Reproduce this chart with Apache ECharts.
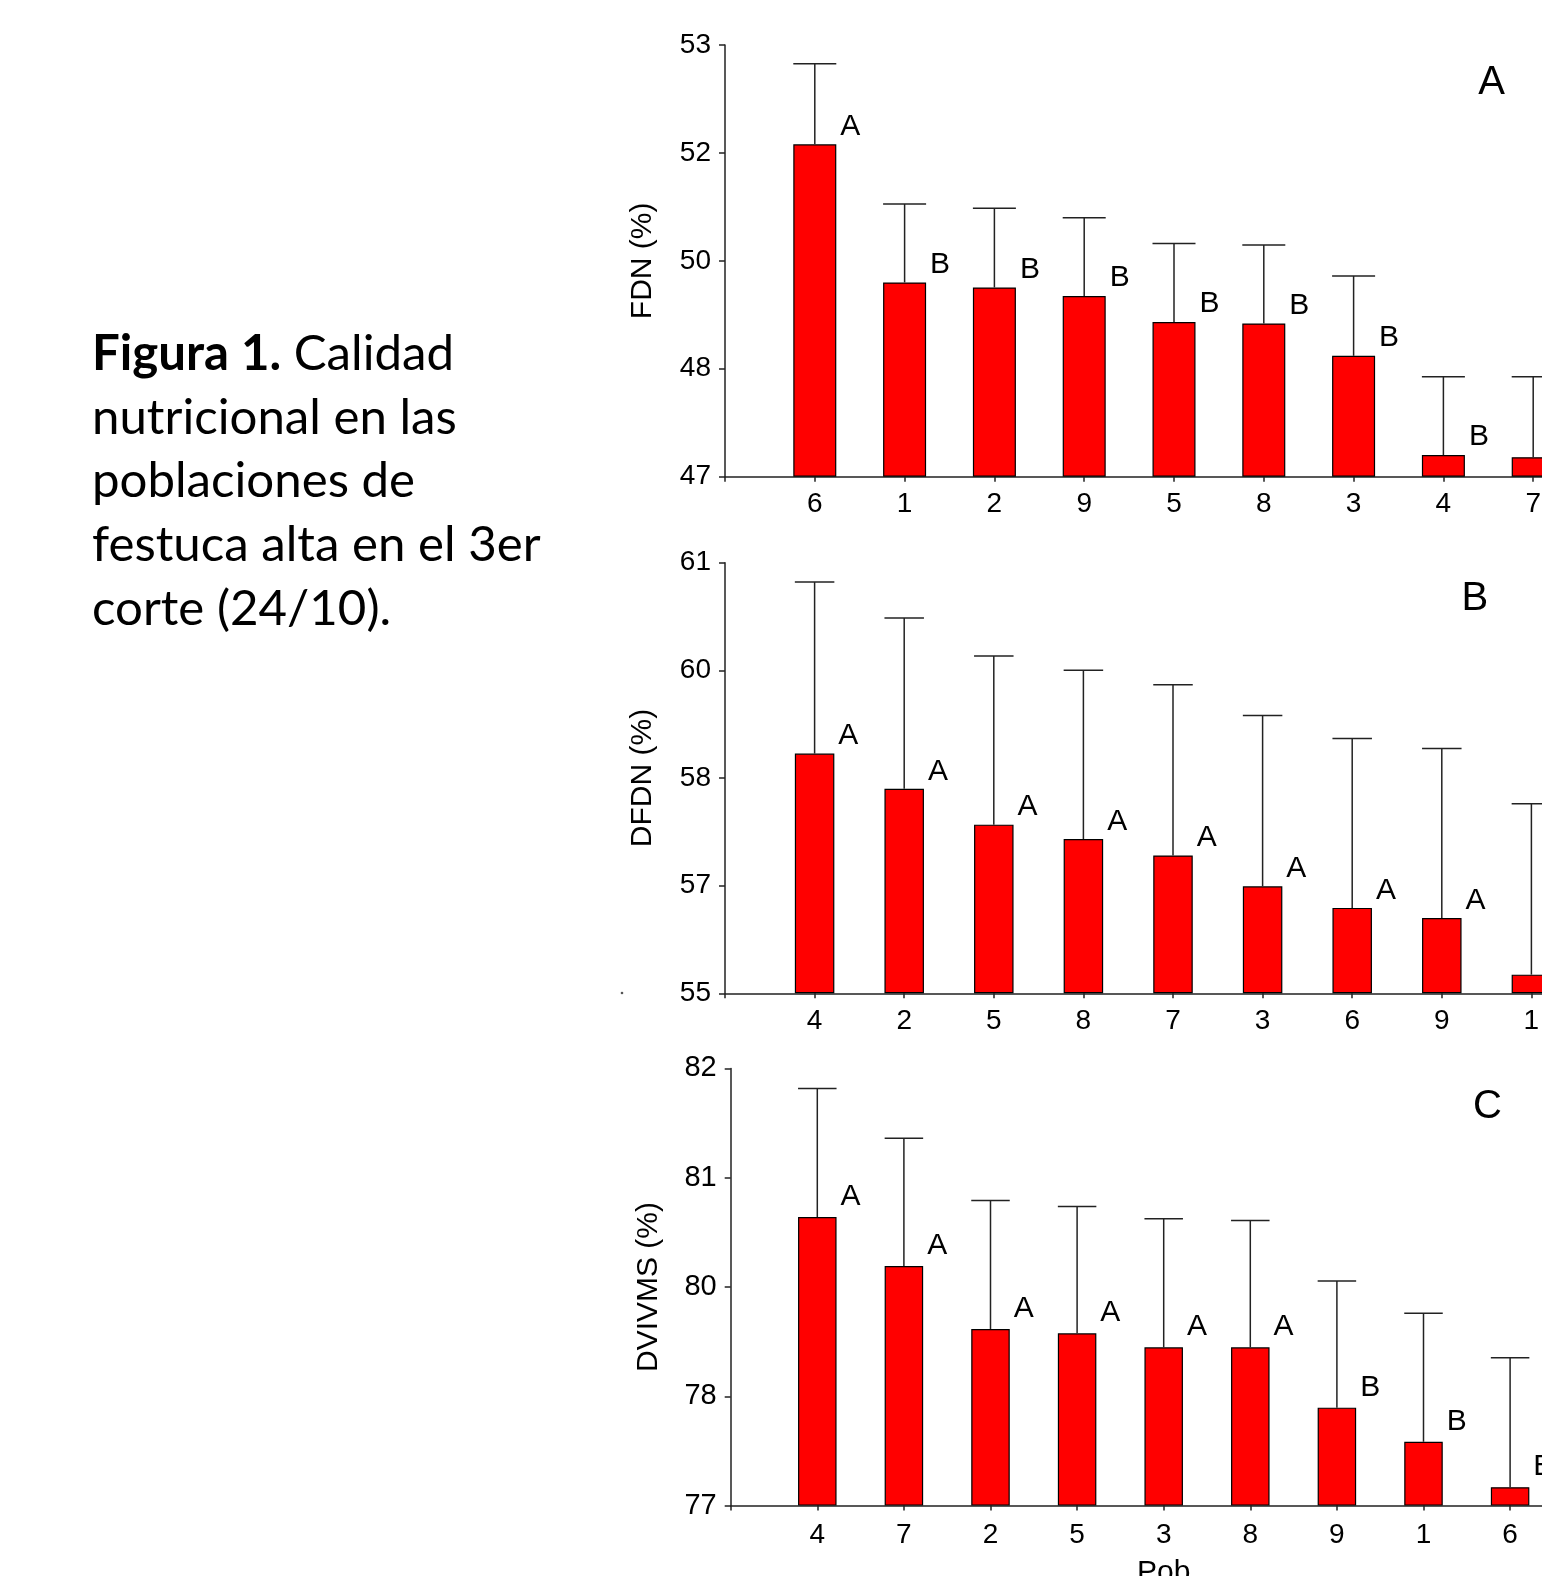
<!DOCTYPE html>
<html><head><meta charset="utf-8">
<script src="https://cdn.jsdelivr.net/npm/echarts@6/dist/echarts.min.js"></script>
<style>
html,body{margin:0;padding:0;overflow:hidden;background:#fff;width:1542px;height:1576px}
#c{width:1800px;height:1576px}
</style></head>
<body><div id="c"></div>
<script>
// Panel A: FDN (%)
const popsA  = ['6','1','2','9','5','8','3','4','7'];
const meanA  = [51.62,49.70,49.63,49.51,49.15,49.13,48.68,47.30,47.27];
const upperA = [52.74,50.79,50.73,50.60,50.24,50.22,49.79,48.39,48.39];
const letA   = ['A','B','B','B','B','B','B','B','B'];
const ticksA = ['47','48','50','52','53'];

// Panel B: DFDN (%)
const popsB  = ['4','2','5','8','7','3','6','9','1'];
const meanB  = [58.34,57.85,57.35,57.15,56.92,56.49,56.19,56.05,55.26];
const upperB = [60.73,60.23,59.70,59.50,59.30,58.87,58.55,58.41,57.64];
const letB   = ['A','A','A','A','A','A','A','A','A'];
const ticksB = ['55','57','58','60','61'];

// Panel C: DVIVMS (%)
const popsC  = ['4','7','2','5','3','8','9','1','6'];
const meanC  = [80.30,79.74,79.02,78.97,78.81,78.81,78.12,77.73,77.21];
const upperC = [81.77,81.20,80.49,80.42,80.28,80.26,79.57,79.20,78.69];
const letC   = ['A','A','A','A','A','A','B','B','B'];
const ticksC = ['77','78','80','81','82'];

const captionLines = ['{b|Figura 1.} Calidad', 'nutricional en las', 'poblaciones de', 'festuca alta en el 3er', 'corte (24/10).'];

const FF = '"Liberation Sans", Arial, sans-serif';
const panels = [
  {cats:popsA, means:meanA, uppers:upperA, lets:letA, ticks:ticksA, min:47, max:53, interval:1.5, name:'FDN (%)', xname:'',
   grid:{left:725, top:45, width:898, height:431.7}, barW:43, tag:'A', tagPos:[1491.5, 82.5],
   xMargin:14, yFont:28, nameGap:67, letOff:-18},
  {cats:popsB, means:meanB, uppers:upperB, lets:letB, ticks:ticksB, min:55, max:61, interval:1.5, name:'DFDN (%)', xname:'',
   grid:{left:725, top:562.7, width:896, height:430.6}, barW:39.5, tag:'B', tagPos:[1474.8, 598.8],
   xMargin:14, yFont:28, nameGap:67, letOff:-17.5},
  {cats:popsC, means:meanC, uppers:upperC, lets:letC, ticks:ticksC, min:77, max:82, interval:1.25, name:'DVIVMS (%)', xname:'Pob',
   grid:{left:730.7, top:1068.4, width:866, height:437.2}, barW:38.5, tag:'C', tagPos:[1487.5, 1106.7],
   xMargin:16, yFont:29, nameGap:66.7, letOff:-20.4}
];

const grids = [], xAxes = [], yAxes = [], series = [];
const axisCol = '#222';
panels.forEach((p, i) => {
  grids.push(Object.assign({containLabel:false, outerBoundsMode:'none'}, p.grid));
  xAxes.push({
    gridIndex:i, type:'category', boundaryGap:false, data:[''].concat(p.cats, ['']),
    axisLine:{lineStyle:{color:axisCol, width:1.5}},
    axisTick:{length:5, lineStyle:{color:axisCol, width:1.5}},
    axisLabel:{interval:0, color:'#000', fontSize:28, fontFamily:FF, margin:p.xMargin},
    splitLine:{show:false},
    name:p.xname, nameLocation:'middle', nameGap:52,
    nameTextStyle:{color:'#000', fontSize:30, fontFamily:FF}
  });
  yAxes.push({
    gridIndex:i, type:'value', min:p.min, max:p.max, interval:p.interval, startValue:p.min,
    axisLine:{show:true, lineStyle:{color:axisCol, width:1.5}},
    axisTick:{show:true, length:6, lineStyle:{color:axisCol, width:1.5}},
    axisLabel:{color:'#000', fontSize:p.yFont, fontFamily:FF, margin:14,
      formatter:(v, idx) => p.ticks[idx] !== undefined ? p.ticks[idx] : ''},
    splitLine:{show:false},
    name:p.name, nameLocation:'middle', nameGap:p.nameGap,
    nameTextStyle:{color:'#000', fontSize:30, fontFamily:FF}
  });
  series.push({
    type:'bar', xAxisIndex:i, yAxisIndex:i, barWidth:p.barW,
    data:p.cats.map((c, k) => ({value:[c, p.means[k]], label:{formatter:p.lets[k]}})),
    itemStyle:{color:'#ff0000', borderColor:'#000', borderWidth:1.2},
    label:{show:true, position:['100%', 0], align:'left', verticalAlign:'middle', offset:[4, p.letOff],
      fontSize:30, fontFamily:FF, color:'#000'},
    silent:true, animation:false
  });
  series.push({
    type:'custom', xAxisIndex:i, yAxisIndex:i, z:3, animation:false, silent:true,
    data:p.cats.map((c, k) => [c, p.means[k], p.uppers[k]]),
    encode:{x:0, y:[1, 2]},
    renderItem:(params, api) => {
      const x = api.value(0);
      const top = api.coord([x, api.value(2)]);
      const base = api.coord([x, api.value(1)]);
      const hw = p.barW / 2;
      return {type:'group', children:[
        {type:'line', shape:{x1:top[0], y1:base[1], x2:top[0], y2:top[1]}, style:{stroke:'#222', lineWidth:1.5}},
        {type:'line', shape:{x1:top[0]-hw, y1:top[1], x2:top[0]+hw, y2:top[1]}, style:{stroke:'#222', lineWidth:1.5}}
      ]};
    }
  });
});

const graphic = [];
panels.forEach(p => {
  graphic.push({type:'text', x:p.tagPos[0], y:p.tagPos[1], silent:true,
    style:{text:p.tag, fill:'#000', font:'40px ' + FF, align:'center', verticalAlign:'middle'}});
});
const capFont = 'Lato, "Open Sans", sans-serif';
captionLines.forEach((t, k) => {
  graphic.push({type:'text', x:92, y:354 + k*63.8, silent:true,
    style:{text:t, fill:'#000', fontSize:49.2, fontFamily:capFont, verticalAlign:'middle', align:'left',
      rich:{b:{fontWeight:'bold', fontSize:49.2, fontFamily:capFont, fill:'#000'}}}});
});
graphic.push({type:'circle', shape:{cx:622, cy:993, r:1.3}, style:{fill:'#555'}, silent:true});

const chart = echarts.init(document.getElementById('c'), null, {renderer:'canvas'});
chart.setOption({animation:false, backgroundColor:'#fff', grid:grids, xAxis:xAxes, yAxis:yAxes, series:series, graphic:graphic});
</script>
</body></html>
